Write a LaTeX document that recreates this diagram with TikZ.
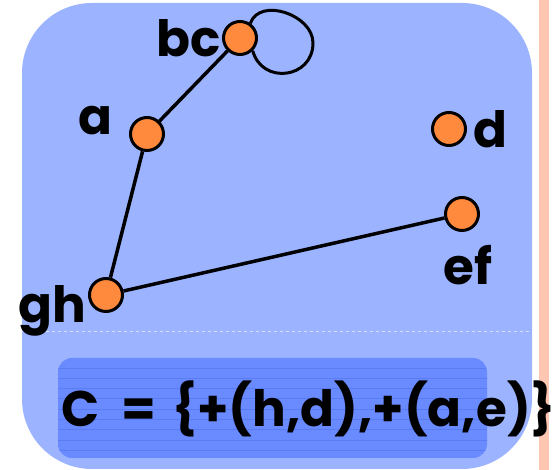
\documentclass[tikz,border=0pt]{standalone}
\usepackage{fontspec}
\setmainfont{Poppins}
\usepackage{tikz}
\usetikzlibrary{positioning}

\definecolor{panel}{HTML}{9CB3FF}
\definecolor{setbox}{HTML}{6A8BFF}
\definecolor{setline}{HTML}{5A7CF2}
\definecolor{vertex}{HTML}{FF8A3D}
\definecolor{edgebar}{HTML}{FFC6B2}

\begin{document}
\begin{tikzpicture}[x=1pt, y=1pt,
    vert/.style={circle, draw=black, line width=3pt, fill=vertex, minimum size=33pt, inner sep=0pt},
    lbl/.style={font=\fontsize{50}{50}\selectfont\bfseries, inner sep=0pt},
    edge/.style={line width=3.5pt, black}]
    \useasboundingbox (0,0) rectangle (558,470);

    % fond
    \fill[panel] (22,1) [rounded corners=70pt] rectangle (532,467);
    \fill[edgebar] (539,0) rectangle (549,470);
    \draw[white, opacity=0.6, dashed, line width=0.6pt] (22,139) -- (532,139);

    % cadre de l'ensemble C
    \fill[setbox, rounded corners=14pt] (58,12) rectangle (487,112);
    \begin{scope}
        \clip[rounded corners=14pt] (58,12) rectangle (487,112);
        \foreach \y in {0,...,8}{
            \draw[setline, line width=0.8pt] (58,102-\y*10.3) -- (487,102-\y*10.3);
        }
    \end{scope}

    % sommets
    \node[vert] (nbc) at (240,432) {};
    \node[vert] (na)  at (147,336) {};
    \node[vert] (nd)  at (449,341) {};
    \node[vert] (nef) at (462,256) {};
    \node[vert] (ngh) at (106,175) {};
    \coordinate (lp) at (313,427); % bout de la boucle

    % noms
    \node[lbl, left=1pt of nbc]  (lbc) {bc};
    \node[lbl] (la)  at (95,349)  {a};
    \node[lbl, right=6pt of nd]  (ld)  {d};
    \node[lbl] (lef) at (468,205) {ef};
    \node[lbl, left=2pt of ngh, yshift=-16pt] (lgh) {gh};

    % aretes
    \draw[edge] (nbc) -- (na);
    \draw[edge] (na) -- (ngh);
    \draw[edge] (ngh) -- (nef);
    \draw[edge, line width=3pt] (nbc.55) to[out=70, in=90, looseness=1.1] (lp)
        to[out=-90, in=-75, looseness=1.5] (nbc.-45);

    \node[lbl, anchor=base west] (cset) at (61,43) {C\hspace{12pt} = \hspace{5pt}\{+(h,d),+(a,e)\}};
\end{tikzpicture}
\end{document}
